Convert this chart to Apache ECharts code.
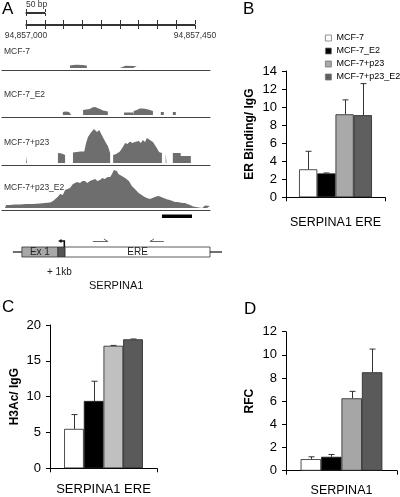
<!DOCTYPE html>
<html><head><meta charset="utf-8">
<script src="https://cdn.jsdelivr.net/npm/echarts/dist/echarts.min.js"></script>
<style>html,body{margin:0;padding:0;background:#fff}#c{width:400px;height:497px}</style>
</head><body><div id="c"></div>
<script>
// ---------------- DATA ----------------
const groups = ['MCF-7', 'MCF-7_E2', 'MCF-7+p23', 'MCF-7+p23_E2'];
const catB = ['SERPINA1 ERE'];
const erBinding = [3.1, 2.65, 9.2, 9.1];
const erBindingErr = [2.0, 0.05, 1.6, 3.5];
const catC = ['SERPINA1 ERE'];
const h3ac = [5.5, 9.4, 17.1, 18.0];
const h3acErr = [2.0, 2.75, 0.05, 0.05];
const catD = ['SERPINA1'];
const rfc = [1.0, 1.2, 6.25, 8.5];
const rfcErr = [0.2, 0.2, 0.6, 2.0];

// genome browser (bp offset from 94,857,000, relative read height)
const rulerLabels = {0: '94,857,000', 450: '94,857,450'};
const trackNames = ['MCF-7', 'MCF-7_E2', 'MCF-7+p23', 'MCF-7+p23_E2'];
const trackMCF7 = [[117,0],[117,2.5],[125,3],[135,3.2],[150,3],[162,2.6],[162,0],
  [250,0],[250,2],[265,2.2],[285,2],[295,1.8],[295,0]];
const trackMCF7E2 = [[98,0],[98,3],[105,3.5],[115,3],[120,2.8],[120,0],
  [152,0],[152,5],[160,5.5],[170,6],[176,7.5],[184,8],[190,7],[197,6],[205,4.5],[212,4],[218,3.5],[218,0],
  [245,0],[245,2],[250,2],[250,0],
  [261,0],[261,2.5],[285,2.5],[285,0],
  [287,0],[287,4],[295,5],[303,6.5],[311,6.5],[320,6],[330,5],[338,4],[338,0],
  [359,0],[359,3],[367,3],[367,0],
  [391,0],[391,3],[399,3],[399,0]];
const trackP23 = [[0,0],[0,6.5],[2.5,6.5],[2.5,0],
  [85,0],[85,10],[95,9.5],[104,8],[104,0],
  [125,0],[125,10.5],[135,11],[145,11.5],[155,11.5],[160,20],[165,26],[172,30],[176,31],[181,34],[185,33],[189,31],[195,33],[197,32],[203,27],[208,25],[213,20],[218,17],[224,10],[224,0],
  [232,0],[232,8],[240,9],[250,11.5],[258,16],[264,20],[270,19],[277,21.5],[283,20],[290,21],[295,19],[300,22],[306,20],[311,23],[317,21],[322,25],[330,23],[338,21],[343,19],[350,14],[354,11],[362,10],[362,0],
  [372,0],[372,10],[374,10],[374,0],
  [391,0],[391,10],[412,10],[412,7],[439,7],[439,0]];
const trackP23E2 = [[-56,0],[-53,3],[-43,3],[-30,3.5],[-16,3.5],[0,4],[19,4],[37,4.5],[50,5],[64,5.5],[72,7],[77,8],[84,11],[91,14],[98,13],[104,18],[109,20],[117,20],[125,24],[130,23],[136,26],[144,25],[150,27],[157,27],[163,25],[170,27],[177,28],[184,29],[190,27],[197,28],[203,30],[210,29],[217,31],[224,31],[229,34],[234,38],[238,36],[242,37],[246,34],[250,34],[255,32],[258,33],[264,30],[269,29],[274,27],[277,25],[282,22],[285,21],[290,19],[295,17],[300,15],[303,14],[308,13],[311,12],[316,11],[322,10],[327,9.5],[330,9],[337,10],[343,11],[348,12],[351,12],[357,11.5],[362,11],[366,10],[370,9],[377,8.5],[383,8],[390,7],[397,6],[404,6],[410,5.5],[417,5],[423,5],[430,4],[437,3],[442,2],[445,1.5],[450,0],[469,0],[471,2],[477,2.5],[482,2.5],[490,2]];

// gene diagram (bp)
const geneStart = [-35, -11, 85, 104, 490];
const geneEnd   = [-11, 85, 104, 490, 522];
const geneKind  = ['line', 'exon', 'utr', 'region', 'line'];
const geneLabel = ['', 'Ex 1', '', 'ERE', ''];
const primers = [[178, 218, 1], [330, 367, -1]];
const amplicon = [[362, 442]];
const tss = [[88]];

// ---------------- STYLE ----------------
const FONT = 'Liberation Sans, Arial, sans-serif';
const BAR_FRAC = 0.184;
const colorsB = ['#ffffff', '#000000', '#a9a9a9', '#5f5f5f'];
const colorsC = ['#ffffff', '#000000', '#c0c0c0', '#5a5a5a'];
const colorsD = ['#ffffff', '#000000', '#a6a6a6', '#5a5a5a'];
const trackColor = '#6e6e6e';
const BP_MIN = -64, BP_MAX = 490;

const chart = echarts.init(document.getElementById('c'), null, {renderer: 'canvas'});

const grids = [
  {left: 26, top: 12, width: 18.8, height: 1},   // 0 scale bar
  {left: 26, top: 24, width: 169, height: 1},    // 1 ruler
  {left: 2, top: 28, width: 208, height: 40},    // 2 track MCF-7
  {left: 2, top: 75, width: 208, height: 40},    // 3
  {left: 2, top: 123, width: 208, height: 40},   // 4
  {left: 2, top: 168, width: 208, height: 40},   // 5
  {left: 2, top: 212, width: 208, height: 53},   // 6 gene diagram
  {left: 286, top: 71, width: 99, height: 126.3},   // 7 B
  {left: 50, top: 325, width: 107, height: 143.3},  // 8 C
  {left: 286, top: 331.7, width: 111, height: 139}  // 9 D
].map(g => Object.assign({containLabel: false, outerBoundsMode: 'none'}, g));

const hiddenY = (gi, max) => ({gridIndex: gi, type: 'value', min: 0, max: max, show: false});

const xAxes = [], yAxes = [];
// scale bar (two axes for crossing caps)
xAxes.push({gridIndex: 0, type: 'value', min: 0, max: 50, interval: 50, position: 'bottom',
  axisLine: {lineStyle: {color: '#333', width: 1}}, axisTick: {length: 3, lineStyle: {color: '#333'}},
  axisLabel: {show: false}, splitLine: {show: false}});
xAxes.push({gridIndex: 0, type: 'value', min: 0, max: 50, interval: 50, position: 'top',
  axisLine: {lineStyle: {color: '#333', width: 1}}, axisTick: {length: 3, lineStyle: {color: '#333'}},
  axisLabel: {show: false}, splitLine: {show: false}});
yAxes.push(hiddenY(0, 1));
// ruler
xAxes.push({gridIndex: 1, type: 'value', min: 0, max: 450, interval: 50, position: 'bottom',
  axisLine: {lineStyle: {color: '#333', width: 1}}, axisTick: {length: 4, lineStyle: {color: '#333'}},
  axisLabel: {interval: 0, hideOverlap: false, margin: 6, fontSize: 8.5, fontFamily: FONT, color: '#333',
    formatter: v => rulerLabels[v] || ''}, splitLine: {show: false}});
xAxes.push({gridIndex: 1, type: 'value', min: 0, max: 450, interval: 50, position: 'top',
  axisLine: {lineStyle: {color: '#333', width: 1}}, axisTick: {length: 4, lineStyle: {color: '#333'}},
  axisLabel: {show: false}, splitLine: {show: false}});
yAxes.push(hiddenY(1, 1));
// tracks
for (let t = 0; t < 4; t++) {
  xAxes.push({gridIndex: 2 + t, type: 'value', min: BP_MIN, max: BP_MAX, offset: 2,
    axisLine: {show: true, onZero: false, lineStyle: {color: '#444', width: 1.2}},
    axisTick: {show: false}, axisLabel: {show: false}, splitLine: {show: false}});
  yAxes.push(hiddenY(2 + t, 40));
}
// gene diagram
xAxes.push({gridIndex: 6, type: 'value', min: BP_MIN, max: BP_MAX, show: false});
yAxes.push(hiddenY(6, 53));

function barAxes(gi, cats, ymax, interval, name, labelMargin, nameGap, catFont, yFont) {
  xAxes.push({gridIndex: gi, type: 'category', data: cats,
    axisLine: {show: true, lineStyle: {color: '#000', width: 1}},
    axisTick: {show: true, length: 4, lineStyle: {color: '#000'}},
    axisLabel: {margin: labelMargin, fontSize: catFont, fontFamily: FONT, color: '#000'}});
  yAxes.push({gridIndex: gi, type: 'value', min: 0, max: ymax, interval: interval,
    axisLine: {show: true, lineStyle: {color: '#000', width: 1}},
    axisTick: {show: true, length: 4, lineStyle: {color: '#000'}},
    splitLine: {show: false},
    axisLabel: {margin: 9, fontSize: yFont, fontFamily: FONT, color: '#000'},
    name: name, nameLocation: 'middle', nameGap: nameGap, nameRotate: 90,
    nameTextStyle: {fontWeight: 'bold', fontSize: 12, fontFamily: FONT, color: '#000'}});
}
barAxes(7, catB, 14, 2, 'ER Binding/ IgG', 19, 30, 12.5, 13);
barAxes(8, catC, 20, 5, 'H3Ac/ IgG', 15, 29, 13, 13);
barAxes(9, catD, 12, 2, 'RFC', 13, 30, 12.5, 13);

const series = [];
// track series
[trackMCF7, trackMCF7E2, trackP23, trackP23E2].forEach((d, t) => {
  series.push({type: 'line', name: trackNames[t] + ' track', xAxisIndex: 4 + t, yAxisIndex: 2 + t,
    data: d, symbol: 'none', silent: true, smooth: false,
    lineStyle: {width: 0, color: trackColor}, areaStyle: {color: trackColor, opacity: 1}});
});
// gene diagram
series.push({type: 'custom', xAxisIndex: 8, yAxisIndex: 6, silent: true, clip: false,
  data: geneStart.map((s, i) => [s, geneEnd[i], i]),
  renderItem(params, api) {
    const i = api.value(2);
    const kind = geneKind[i];
    const a = api.coord([api.value(0), 18]);
    const b = api.coord([api.value(1), 8]);
    const mid = api.coord([api.value(0), 13]);
    const mid2 = api.coord([api.value(1), 13]);
    if (kind === 'line') {
      return {type: 'line', shape: {x1: mid[0], y1: mid[1], x2: mid2[0], y2: mid2[1]},
        style: {stroke: '#111', lineWidth: 1.2}};
    }
    const fill = kind === 'exon' ? '#a8a8a8' : (kind === 'utr' ? '#555555' : '#ffffff');
    const children = [{type: 'rect', shape: {x: a[0], y: a[1], width: b[0] - a[0], height: b[1] - a[1]},
      style: {fill: fill, stroke: '#333', lineWidth: 0.8}}];
    if (geneLabel[i]) {
      children.push({type: 'text', style: {text: geneLabel[i], x: (a[0] + b[0]) / 2, y: (a[1] + b[1]) / 2 + 0.5,
        align: 'center', verticalAlign: 'middle', font: '10px ' + FONT, fill: '#222'}});
    }
    return {type: 'group', children};
  }});
// primers
series.push({type: 'custom', xAxisIndex: 8, yAxisIndex: 6, silent: true, clip: false,
  data: primers,
  renderItem(params, api) {
    const s = api.coord([api.value(0), 23.5]);
    const e = api.coord([api.value(1), 23.5]);
    const dir = api.value(2);
    const tip = dir > 0 ? e : s;
    return {type: 'group', children: [
      {type: 'line', shape: {x1: s[0], y1: s[1], x2: e[0], y2: e[1]}, style: {stroke: '#666', lineWidth: 1}},
      {type: 'line', shape: {x1: tip[0], y1: tip[1], x2: tip[0] - dir * 4, y2: tip[1] - 2.5}, style: {stroke: '#666', lineWidth: 1}}
    ]};
  }});
// amplicon bar
series.push({type: 'custom', xAxisIndex: 8, yAxisIndex: 6, silent: true, clip: false,
  data: amplicon,
  renderItem(params, api) {
    const a = api.coord([api.value(0), 50.5]);
    const b = api.coord([api.value(1), 47]);
    return {type: 'rect', shape: {x: a[0], y: a[1], width: b[0] - a[0], height: b[1] - a[1]}, style: {fill: '#000'}};
  }});
// TSS arrow
series.push({type: 'custom', xAxisIndex: 8, yAxisIndex: 6, silent: true, clip: false,
  data: tss,
  renderItem(params, api) {
    const base = api.coord([api.value(0), 18]);
    const top = api.coord([api.value(0), 24]);
    const end = api.coord([api.value(0) + 14, 24]);
    return {type: 'group', children: [
      {type: 'polyline', shape: {points: [[end[0], base[1]], [end[0], top[1]], [base[0] + 1, top[1]]]},
        style: {stroke: '#111', lineWidth: 1.6, fill: null}},
      {type: 'polygon', shape: {points: [[base[0] - 1, top[1]], [base[0] + 2.5, top[1] - 2], [base[0] + 2.5, top[1] + 2]]},
        style: {fill: '#111'}}
    ]};
  }});

// bar panels
function barPanel(xi, yi, vals, errs, colors) {
  groups.forEach((g, i) => {
    series.push({type: 'bar', name: g, xAxisIndex: xi, yAxisIndex: yi, data: [vals[i]],
      barWidth: (BAR_FRAC * 100) + '%', barGap: '0%',
      itemStyle: {color: colors[i], borderColor: '#222', borderWidth: 0.8}});
  });
  series.push({type: 'custom', xAxisIndex: xi, yAxisIndex: yi, silent: true, z: 10,
    data: vals.map((v, i) => [0, v, errs[i], i]),
    renderItem(params, api) {
      const v = api.value(1), e = api.value(2), i = api.value(3);
      const base = api.coord([0, v]);
      const top = api.coord([0, v + e]);
      const band = api.size([1, 0])[0];
      const x = Math.round(base[0] + (i - 1.5) * band * BAR_FRAC) + 0.5;
      return {type: 'group', children: [
        {type: 'line', shape: {x1: x, y1: base[1], x2: x, y2: top[1]}, style: {stroke: '#333', lineWidth: 1}},
        {type: 'line', shape: {x1: x - 3, y1: top[1], x2: x + 3, y2: top[1]}, style: {stroke: '#333', lineWidth: 1}}
      ]};
    }});
}
barPanel(9, 7, erBinding, erBindingErr, colorsB);
barPanel(10, 8, h3ac, h3acErr, colorsC);
barPanel(11, 9, rfc, rfcErr, colorsD);

const txt = (left, top, text, size, extra) => ({type: 'text', left, top,
  style: Object.assign({text, font: size + 'px ' + FONT, fill: '#000'}, extra || {})});

chart.setOption({
  animation: false,
  grid: grids,
  xAxis: xAxes,
  yAxis: yAxes,
  legend: {data: groups, orient: 'vertical', left: 325, top: 32, padding: 0, itemWidth: 6, itemHeight: 6, itemGap: 1,
    icon: 'rect', selectedMode: false,
    textStyle: {fontSize: 9, fontFamily: FONT, color: '#000', lineHeight: 12},
    itemStyle: {borderColor: '#777', borderWidth: 0.8}},
  series: series,
  graphic: [
    txt(2, 1, 'A', 17),
    txt(243, 1, 'B', 17),
    txt(2, 299, 'C', 17),
    txt(244, 301, 'D', 17),
    txt(26, 0, '50 bp', 8.5, {fill: '#333'}),
    txt(4, 47, trackNames[0], 8.5, {fill: '#333'}),
    txt(4, 90, trackNames[1], 8.5, {fill: '#333'}),
    txt(4, 138, trackNames[2], 8.5, {fill: '#333'}),
    txt(4, 183, trackNames[3], 8.5, {fill: '#333'}),
    txt(47, 267, '+ 1kb', 10, {fill: '#222'}),
    txt(89, 280, 'SERPINA1', 11, {fill: '#111'})
  ]
});
</script></body></html>
